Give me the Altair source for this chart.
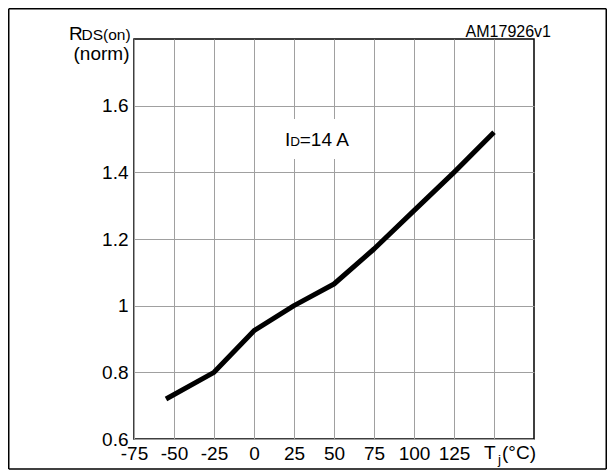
import altair as alt
import pandas as pd

# ---- data ----
temp_c = [-55, -25, 0, 25, 50, 75, 100, 125, 150]
rds_norm = [0.72, 0.80, 0.925, 1.00, 1.065, 1.17, 1.285, 1.40, 1.52]
x_ticks = [-75, -50, -25, 0, 25, 50, 75, 100, 125, 150]
y_ticks = [0.6, 0.8, 1.0, 1.2, 1.4, 1.6]

FONT = "Liberation Sans"
W, H = 400, 400
PAD = {"left": 126, "top": 31, "right": 73, "bottom": 31}

x_scale = alt.Scale(domain=[-75, 175], nice=False, zero=False)
y_scale = alt.Scale(domain=[0.6, 1.8], nice=False, zero=False)

df = pd.DataFrame({"T": temp_c, "R": rds_norm})

x_axis = alt.Axis(values=x_ticks, grid=True, gridColor="#a0a0a0", gridWidth=1,
                  ticks=False, tickSize=0, domain=False,
                  labelExpr="datum.value >= 150 ? '' : '' + datum.value",
                  labelFont=FONT, labelFontSize=19, labelColor="#000",
                  labelBaseline="alphabetic", labelPadding=20,
                  labelFlush=False, labelOverlap=False, labelBound=False, title=None)
y_axis = alt.Axis(values=y_ticks, grid=True, gridColor="#a0a0a0", gridWidth=1,
                  ticks=False, tickSize=0, domain=False,
                  labelExpr="'' + datum.value",
                  labelFont=FONT, labelFontSize=19, labelColor="#000",
                  labelPadding=6, labelFlush=False, labelOverlap=False,
                  labelBound=False, title=None)

line = alt.Chart(df).mark_line(color="black", strokeWidth=5, strokeCap="butt",
                               strokeJoin="round").encode(
    x=alt.X("T:Q", scale=x_scale, axis=x_axis),
    y=alt.Y("R:Q", scale=y_scale, axis=y_axis),
)

# white background behind the current annotation (breaks the grid lines)
box_df = pd.DataFrame({"T": [1], "T2": [74], "R": [1.44], "R2": [1.56]})
box = alt.Chart(box_df).mark_rect(fill="white").encode(
    x=alt.X("T:Q", scale=x_scale, axis=x_axis), x2="T2:Q",
    y=alt.Y("R:Q", scale=y_scale, axis=y_axis), y2="R2:Q",
)

# I_D = 14 A annotation (data coordinates)
id_df = pd.DataFrame({
    "T": [19.4, 22.6, 28.6],
    "R": [1.478, 1.478, 1.478],
    "t": ["I", "D", "=14 A"],
    "s": [19, 13.5, 19],
})
id_text = alt.Chart(id_df).mark_text(align="left", baseline="alphabetic",
                                     font=FONT, color="black").encode(
    x=alt.X("T:Q", scale=x_scale, axis=x_axis),
    y=alt.Y("R:Q", scale=y_scale, axis=y_axis),
    text="t:N",
    size=alt.Size("s:Q", scale=None, legend=None),
)

one = pd.DataFrame({"k": [0]})


def label(txt, px, py, size, align="left"):
    return alt.Chart(one).mark_text(text=txt, align=align, baseline="alphabetic",
                                    font=FONT, fontSize=size, color="black").encode(
        x=alt.value(px), y=alt.value(py))


def rule(x1, y1, x2, y2):
    return alt.Chart(one).mark_rule(color="black", strokeWidth=1.5).encode(
        x=alt.value(x1), x2=alt.value(x2), y=alt.value(y1), y2=alt.value(y2))


decor = [
    label("R", -65.0, 1.3, 19),
    label("DS(on)", -52.5, 1.3, 15.5),
    label("(norm)", -4.5, 21.3, 19, "right"),
    label("AM17926v1", 417.0, -1.7, 16, "right"),
    label("T", 350.0, 419.8, 19),
    label("j", 364.0, 424.5, 13.5),
    label("(°C)", 368.0, 419.8, 19),
    rule(-125.25, -30.25, -125.25, 430.0),
    rule(-125.25, -30.25, 472.25, -30.25),
    rule(472.25, -30.25, 472.25, 430.0),
    rule(-125.25, 430.0, 472.25, 430.0),
]

chart = alt.layer(line, box, id_text, *decor).properties(
    width=W, height=H,
    autosize=alt.AutoSizeParams(type="none"),
    padding=PAD,
).configure_view(stroke="black", strokeWidth=1.5)

chart.save("out.html", embed_options={"renderer": "svg", "actions": False})
